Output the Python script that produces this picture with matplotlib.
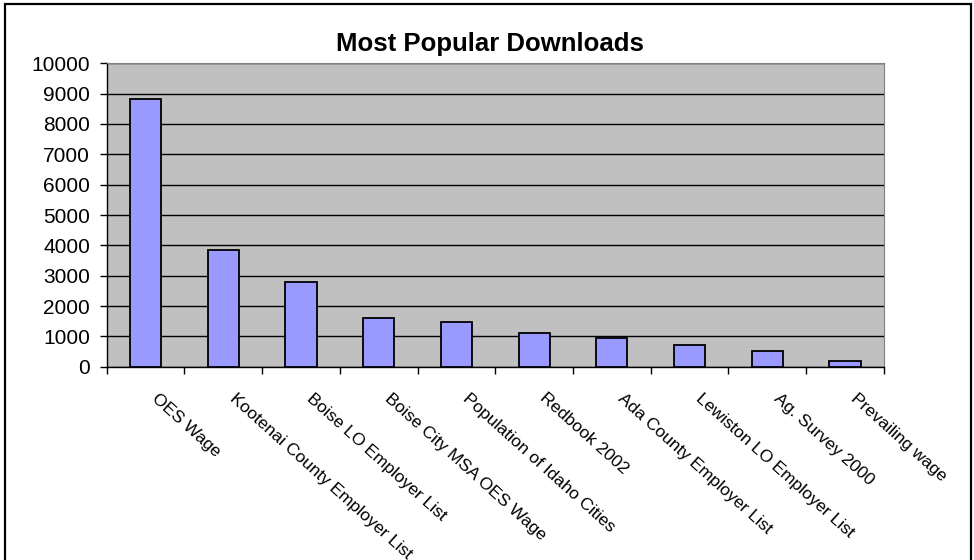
import matplotlib.pyplot as plt
from matplotlib.patches import Rectangle

plt.rcParams['font.family'] = ['Liberation Sans', 'DejaVu Sans']

# Data
downloads = ['OES Wage', 'Kootenai County Employer List', 'Boise LO Employer List',
             'Boise City MSA OES Wage', 'Population of Idaho Cities', 'Redbook 2002',
             'Ada County Employer List', 'Lewiston LO Employer List', 'Ag. Survey 2000',
             'Prevailing wage']
counts = [8830, 3850, 2790, 1620, 1465, 1100, 935, 725, 520, 200]
y_ticks = list(range(0, 10001, 1000))

fig = plt.figure(figsize=(9.74, 5.6), dpi=100)
ax = fig.add_axes([0.1095, 0.345, 0.798, 0.542])

x = list(range(len(downloads)))
ax.set_facecolor('#C0C0C0')
ax.bar(x, counts, width=0.4, color='#9999FF', edgecolor='black', linewidth=1.3, zorder=3)

ax.set_ylim(0, 10000)
ax.set_xlim(-0.5, len(downloads) - 0.5)
ax.set_yticks(y_ticks)
ax.set_yticklabels([str(v) for v in y_ticks], fontsize=15)
ax.yaxis.grid(True, color='black', linewidth=1)
ax.set_axisbelow(True)

# category boundaries carry the tick marks
ax.set_xticks([i - 0.5 for i in range(len(downloads) + 1)], minor=True)
ax.set_xticks(x)
ax.set_xticklabels([])
ax.tick_params(axis='x', which='major', length=0)
ax.tick_params(axis='x', which='minor', length=5, width=1)
ax.tick_params(axis='y', length=5, width=1, pad=7)

for i, name in enumerate(downloads):
    ax.annotate(name, xy=(i, 0), xycoords='data', xytext=(6, -21),
                textcoords='offset points', rotation=-42, rotation_mode='anchor',
                ha='left', va='center', fontsize=12.5)

for side in ['left', 'bottom']:
    ax.spines[side].set_color('black')
    ax.spines[side].set_linewidth(1)
for side in ['top', 'right']:
    ax.spines[side].set_color('#808080')
    ax.spines[side].set_linewidth(0.8)

fig.text(0.503, 0.922, 'Most Popular Downloads', ha='center', va='center',
         fontsize=18.5, fontweight='bold')

# outer chart frame
fig.patches.append(Rectangle((5 / 974, -0.05), 966 / 974, 1.05 - 4 / 560,
                             transform=fig.transFigure, fill=False,
                             edgecolor='black', linewidth=1.6))

fig.savefig('out.png', dpi=100)
